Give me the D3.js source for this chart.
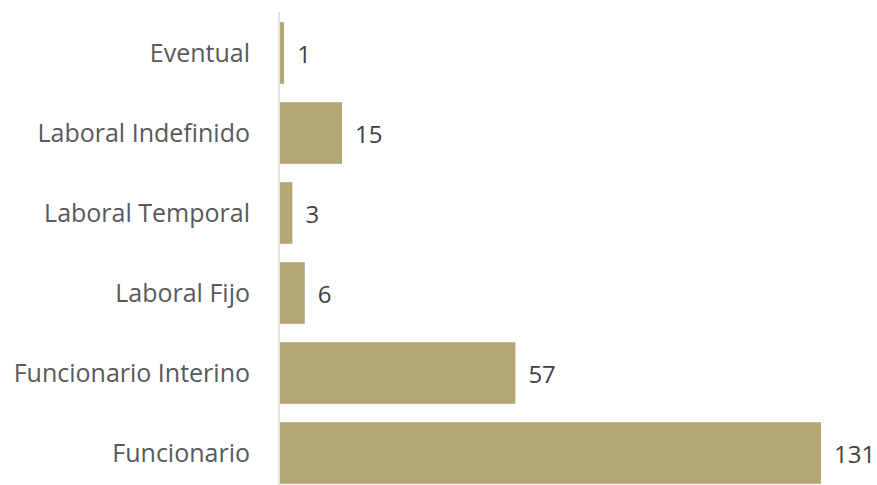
<!DOCTYPE html>
<html>
<head>
<meta charset="utf-8">
<script src="https://cdn.jsdelivr.net/npm/d3@7"></script>
<style>
  html, body { margin: 0; padding: 0; background: #ffffff; }
  svg { display: block; }
  text { font-family: "Open Sans", "Noto Sans", sans-serif; }
</style>
</head>
<body>
<svg id="chart" width="877" height="485"></svg>
<script>
// Contract types, listed top to bottom
const categories = ["Eventual", "Laboral Indefinido", "Laboral Temporal", "Laboral Fijo", "Funcionario Interino", "Funcionario"];
// Number of staff per contract type
const counts = [1, 15, 3, 6, 57, 131];

const width = 877, height = 485;
const axisX = 279;

const svg = d3.select("#chart");

const x = d3.scaleLinear()
  .domain([0, 131])
  .range([axisX + 1, 821]);

const y = d3.scaleBand()
  .domain(categories)
  .range([13, 493])
  .paddingInner(0.23)
  .paddingOuter(0.115);

const data = categories.map((c, i) => ({ cat: c, val: counts[i] }));

// bars
svg.append("g")
  .selectAll("rect")
  .data(data)
  .join("rect")
  .attr("x", x(0))
  .attr("y", d => y(d.cat))
  .attr("width", d => x(d.val) - x(0))
  .attr("height", y.bandwidth())
  .attr("fill", "#b3a775");

// category axis
const axis = d3.axisLeft(y).tickSize(0).tickPadding(29);
const gAxis = svg.append("g")
  .attr("transform", `translate(${axisX},0)`)
  .call(axis);
gAxis.select(".domain").remove();
gAxis.selectAll("text")
  .attr("fill", "#595959")
  .style("font-size", "25px")
  .attr("dy", "0.35em");

svg.append("line")
  .attr("x1", axisX).attr("x2", axisX)
  .attr("y1", 12).attr("y2", height)
  .attr("stroke", "#d9d9d9")
  .attr("stroke-width", 1.5);

// value labels
svg.append("g")
  .selectAll("text")
  .data(data)
  .join("text")
  .attr("x", d => x(d.val) + 13)
  .attr("y", d => y(d.cat) + y.bandwidth() / 2)
  .attr("dy", "0.4em")
  .attr("fill", "#404040")
  .style("font-size", "24px")
  .text(d => d.val);
</script>
</body>
</html>
